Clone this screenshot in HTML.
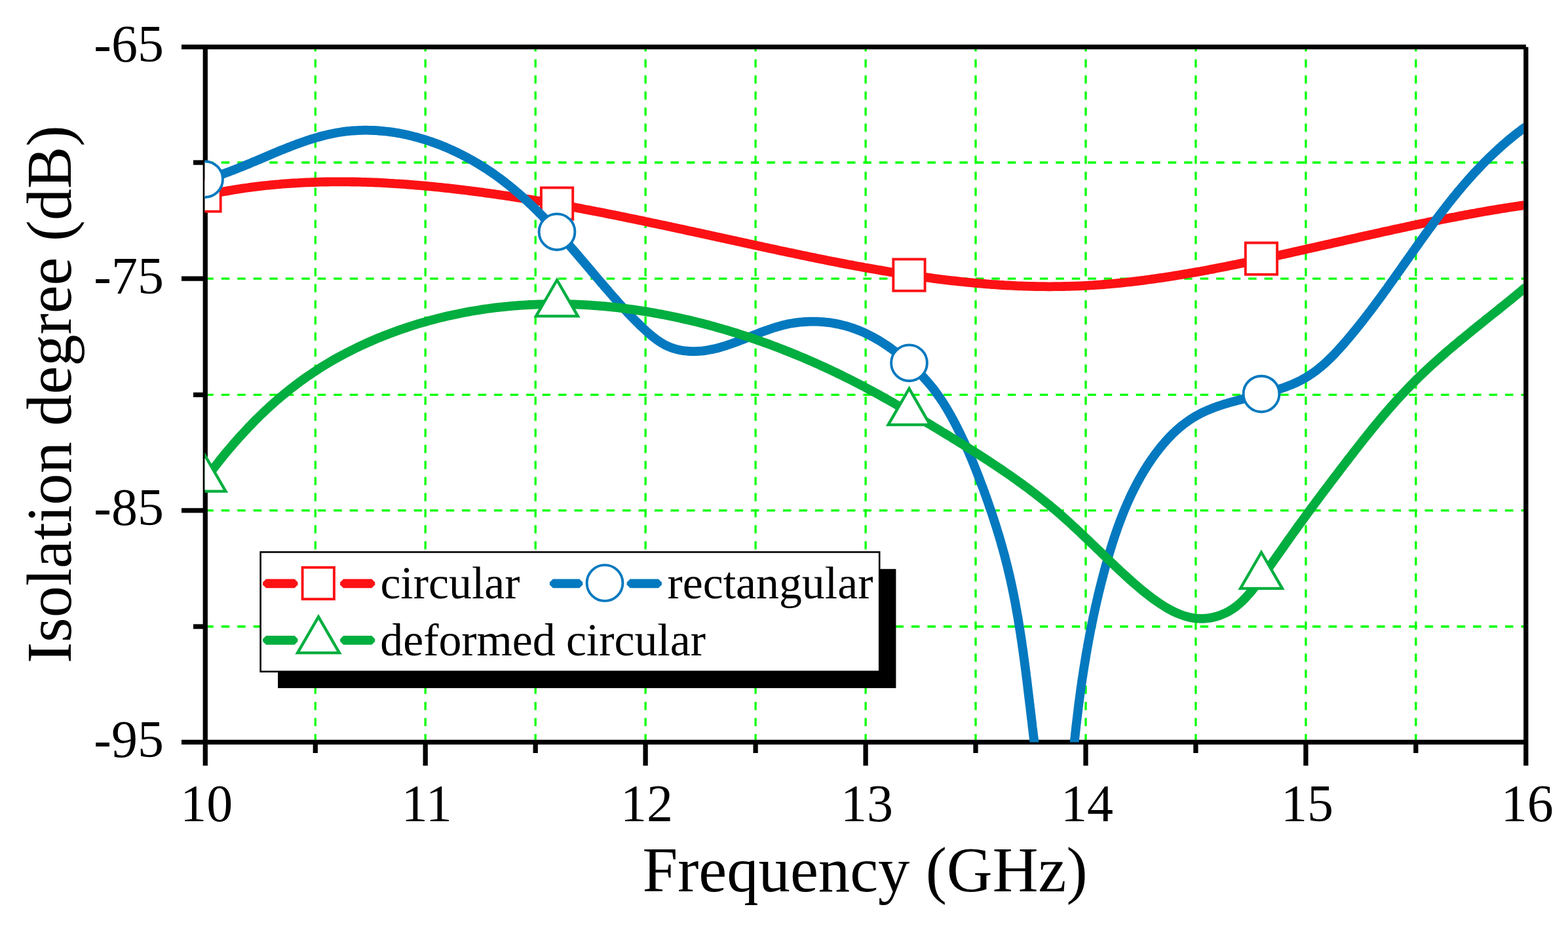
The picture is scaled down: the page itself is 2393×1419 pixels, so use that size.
<!DOCTYPE html>
<html lang="en"><head><meta charset="utf-8"><title>Isolation degree vs Frequency</title>
<style>
html,body{margin:0;padding:0;background:#fff;}
body{width:2393px;height:1419px;overflow:hidden;}
svg{display:block;}
text{font-family:"Liberation Serif",serif;fill:#000;}
</style></head><body>
<svg width="2393" height="1419" viewBox="0 0 2393 1419">
<rect x="0" y="0" width="2393" height="1419" fill="#fff"/>
<defs><clipPath id="plotclip"><rect x="312.5" y="71.7" width="2012.7" height="1060.7"/></clipPath></defs>

<g stroke="#00ff00" stroke-width="3.3" fill="none">
<line x1="481.3" y1="1132.4" x2="481.3" y2="71.7" stroke-dasharray="12.5 12.01"/>
<line x1="649.2" y1="1132.4" x2="649.2" y2="71.7" stroke-dasharray="12.5 12.01"/>
<line x1="817.2" y1="1132.4" x2="817.2" y2="71.7" stroke-dasharray="12.5 12.01"/>
<line x1="985.1" y1="1132.4" x2="985.1" y2="71.7" stroke-dasharray="12.5 12.01"/>
<line x1="1153.1" y1="1132.4" x2="1153.1" y2="71.7" stroke-dasharray="12.5 12.01"/>
<line x1="1321.1" y1="1132.4" x2="1321.1" y2="71.7" stroke-dasharray="12.5 12.01"/>
<line x1="1489.0" y1="1132.4" x2="1489.0" y2="71.7" stroke-dasharray="12.5 12.01"/>
<line x1="1657.0" y1="1132.4" x2="1657.0" y2="71.7" stroke-dasharray="12.5 12.01"/>
<line x1="1824.9" y1="1132.4" x2="1824.9" y2="71.7" stroke-dasharray="12.5 12.01"/>
<line x1="1992.9" y1="1132.4" x2="1992.9" y2="71.7" stroke-dasharray="12.5 12.01"/>
<line x1="2160.8" y1="1132.4" x2="2160.8" y2="71.7" stroke-dasharray="12.5 12.01"/>
<line x1="313.3" y1="248.0" x2="2328.8" y2="248.0" stroke-dasharray="12.5 11.99"/>
<line x1="313.3" y1="425.1" x2="2328.8" y2="425.1" stroke-dasharray="12.5 11.99"/>
<line x1="313.3" y1="602.4" x2="2328.8" y2="602.4" stroke-dasharray="12.5 11.99"/>
<line x1="313.3" y1="778.8" x2="2328.8" y2="778.8" stroke-dasharray="12.5 11.99"/>
<line x1="313.3" y1="956.0" x2="2328.8" y2="956.0" stroke-dasharray="12.5 11.99"/>
</g>
<g stroke="#000" stroke-width="7.3" fill="none" stroke-linecap="butt">
<line x1="277" y1="71.7" x2="2328.8" y2="71.7"/>
<line x1="277" y1="1132.4" x2="2328.8" y2="1132.4"/>
<line x1="313.3" y1="71.7" x2="313.3" y2="1168.3"/>
<line x1="2328.8" y1="71.7" x2="2328.8" y2="1168.3"/>
<line x1="481.3" y1="1132.4" x2="481.3" y2="1149"/>
<line x1="649.2" y1="1132.4" x2="649.2" y2="1168.3"/>
<line x1="817.2" y1="1132.4" x2="817.2" y2="1149"/>
<line x1="985.1" y1="1132.4" x2="985.1" y2="1168.3"/>
<line x1="1153.1" y1="1132.4" x2="1153.1" y2="1149"/>
<line x1="1321.1" y1="1132.4" x2="1321.1" y2="1168.3"/>
<line x1="1489.0" y1="1132.4" x2="1489.0" y2="1149"/>
<line x1="1657.0" y1="1132.4" x2="1657.0" y2="1168.3"/>
<line x1="1824.9" y1="1132.4" x2="1824.9" y2="1149"/>
<line x1="1992.9" y1="1132.4" x2="1992.9" y2="1168.3"/>
<line x1="2160.8" y1="1132.4" x2="2160.8" y2="1149"/>
<line x1="295" y1="248.0" x2="313.3" y2="248.0"/>
<line x1="277" y1="425.1" x2="313.3" y2="425.1"/>
<line x1="295" y1="602.4" x2="313.3" y2="602.4"/>
<line x1="277" y1="778.8" x2="313.3" y2="778.8"/>
<line x1="295" y1="956.0" x2="313.3" y2="956.0"/>
</g>
<g clip-path="url(#plotclip)">
<path d="M313.2,297.9 L317.2,297.0 L321.2,296.2 L325.2,295.4 L329.2,294.6 L333.2,293.8 L337.3,293.0 L341.3,292.3 L345.3,291.6 L349.4,290.9 L353.4,290.2 L357.4,289.5 L361.5,288.9 L365.5,288.2 L369.6,287.6 L373.6,287.0 L377.7,286.5 L381.7,285.9 L385.8,285.4 L389.8,284.9 L393.9,284.4 L397.9,283.9 L402.0,283.4 L406.1,283.0 L410.1,282.6 L414.2,282.2 L418.3,281.8 L422.3,281.4 L426.4,281.1 L430.5,280.7 L434.6,280.4 L438.6,280.1 L442.7,279.8 L446.8,279.5 L450.9,279.3 L455.0,279.1 L459.0,278.8 L463.1,278.6 L467.2,278.4 L471.3,278.3 L475.4,278.1 L479.5,278.0 L483.6,277.8 L487.7,277.7 L491.7,277.6 L495.8,277.5 L499.9,277.5 L504.0,277.4 L508.1,277.4 L512.2,277.3 L516.3,277.3 L520.4,277.3 L524.5,277.3 L528.6,277.4 L532.7,277.4 L536.8,277.5 L540.9,277.5 L545.0,277.6 L549.1,277.7 L553.2,277.8 L557.3,277.9 L561.4,278.1 L565.5,278.2 L569.6,278.4 L573.7,278.5 L577.8,278.7 L581.9,278.9 L586.0,279.1 L590.1,279.3 L594.2,279.6 L598.3,279.8 L602.4,280.1 L606.5,280.3 L610.6,280.6 L614.7,280.9 L618.8,281.2 L622.9,281.5 L626.9,281.8 L631.0,282.1 L635.1,282.5 L639.2,282.8 L643.3,283.2 L647.4,283.5 L651.5,283.9 L655.6,284.3 L659.6,284.7 L663.7,285.1 L667.8,285.5 L671.9,285.9 L676.0,286.3 L680.1,286.8 L684.1,287.2 L688.2,287.7 L692.3,288.1 L696.3,288.6 L700.4,289.1 L704.5,289.6 L708.5,290.0 L712.6,290.5 L716.7,291.1 L720.7,291.6 L724.8,292.1 L728.9,292.6 L732.9,293.2 L737.0,293.7 L741.0,294.3 L745.1,294.8 L749.1,295.4 L753.2,295.9 L757.2,296.5 L761.3,297.1 L765.3,297.7 L769.3,298.3 L773.4,298.9 L777.4,299.5 L781.5,300.1 L785.5,300.8 L789.5,301.4 L793.6,302.0 L797.6,302.7 L801.6,303.3 L805.7,304.0 L809.7,304.6 L813.7,305.3 L817.8,306.0 L821.8,306.6 L825.8,307.3 L829.8,308.0 L833.9,308.7 L837.9,309.4 L841.9,310.1 L845.9,310.8 L849.9,311.5 L854.0,312.2 L858.0,313.0 L862.0,313.7 L866.0,314.4 L870.0,315.2 L874.0,315.9 L878.1,316.6 L882.1,317.4 L886.1,318.1 L890.1,318.9 L894.1,319.7 L898.1,320.4 L902.1,321.2 L906.1,322.0 L910.1,322.8 L914.1,323.5 L918.1,324.3 L922.2,325.1 L926.2,325.9 L930.2,326.7 L934.2,327.5 L938.2,328.3 L942.2,329.1 L946.2,329.9 L950.2,330.7 L954.2,331.5 L958.2,332.4 L962.2,333.2 L966.2,334.0 L970.2,334.8 L974.2,335.7 L978.2,336.5 L982.2,337.3 L986.2,338.2 L990.2,339.0 L994.2,339.9 L998.2,340.7 L1002.2,341.6 L1006.2,342.4 L1010.2,343.3 L1014.2,344.1 L1018.2,345.0 L1022.2,345.8 L1026.2,346.7 L1030.2,347.5 L1034.2,348.4 L1038.2,349.3 L1042.2,350.1 L1046.2,351.0 L1050.2,351.9 L1054.2,352.7 L1058.2,353.6 L1062.2,354.5 L1066.2,355.3 L1070.2,356.2 L1074.2,357.1 L1078.2,357.9 L1082.2,358.8 L1086.2,359.7 L1090.2,360.6 L1094.2,361.4 L1098.2,362.3 L1102.2,363.2 L1106.2,364.1 L1110.2,364.9 L1114.2,365.8 L1118.3,366.7 L1122.3,367.6 L1126.3,368.5 L1130.3,369.3 L1134.3,370.2 L1138.3,371.1 L1142.3,372.0 L1146.3,372.8 L1150.3,373.7 L1154.3,374.6 L1158.4,375.4 L1162.4,376.3 L1166.4,377.2 L1170.4,378.0 L1174.4,378.9 L1178.4,379.8 L1182.4,380.6 L1186.5,381.5 L1190.5,382.4 L1194.5,383.2 L1198.5,384.1 L1202.5,384.9 L1206.6,385.8 L1210.6,386.6 L1214.6,387.5 L1218.6,388.3 L1222.7,389.2 L1226.7,390.0 L1230.7,390.8 L1234.7,391.7 L1238.8,392.5 L1242.8,393.3 L1246.8,394.2 L1250.9,395.0 L1254.9,395.8 L1258.9,396.6 L1262.9,397.4 L1267.0,398.2 L1271.0,399.0 L1275.0,399.8 L1279.1,400.6 L1283.1,401.4 L1287.1,402.1 L1291.2,402.9 L1295.2,403.7 L1299.3,404.4 L1303.3,405.2 L1307.3,406.0 L1311.4,406.7 L1315.4,407.4 L1319.4,408.2 L1323.5,408.9 L1327.5,409.6 L1331.6,410.3 L1335.6,411.0 L1339.7,411.8 L1343.7,412.4 L1347.7,413.1 L1351.8,413.8 L1355.8,414.5 L1359.9,415.2 L1363.9,415.8 L1368.0,416.5 L1372.0,417.1 L1376.1,417.8 L1380.1,418.4 L1384.2,419.0 L1388.2,419.6 L1392.3,420.2 L1396.3,420.8 L1400.4,421.4 L1404.4,422.0 L1408.5,422.6 L1412.5,423.1 L1416.6,423.7 L1420.6,424.2 L1424.7,424.8 L1428.7,425.3 L1432.8,425.8 L1436.8,426.3 L1440.9,426.8 L1444.9,427.3 L1449.0,427.8 L1453.1,428.3 L1457.1,428.7 L1461.2,429.2 L1465.2,429.6 L1469.3,430.0 L1473.3,430.4 L1477.4,430.8 L1481.5,431.2 L1485.5,431.6 L1489.6,432.0 L1493.6,432.3 L1497.7,432.7 L1501.8,433.0 L1505.8,433.3 L1509.9,433.7 L1513.9,434.0 L1518.0,434.2 L1522.1,434.5 L1526.1,434.8 L1530.2,435.0 L1534.3,435.3 L1538.3,435.5 L1542.4,435.7 L1546.5,435.9 L1550.5,436.1 L1554.6,436.3 L1558.7,436.4 L1562.7,436.6 L1566.8,436.7 L1570.9,436.8 L1574.9,436.9 L1579.0,437.0 L1583.1,437.1 L1587.1,437.2 L1591.2,437.2 L1595.3,437.2 L1599.3,437.3 L1603.4,437.3 L1607.5,437.2 L1611.5,437.2 L1615.6,437.2 L1619.7,437.1 L1623.7,437.0 L1627.8,436.9 L1631.9,436.8 L1636.0,436.7 L1640.0,436.6 L1644.1,436.4 L1648.2,436.3 L1652.2,436.1 L1656.3,435.9 L1660.4,435.7 L1664.5,435.4 L1668.5,435.2 L1672.6,434.9 L1676.7,434.6 L1680.8,434.3 L1684.8,434.0 L1688.9,433.7 L1693.0,433.3 L1697.0,433.0 L1701.1,432.6 L1705.2,432.2 L1709.3,431.8 L1713.3,431.4 L1717.4,431.0 L1721.5,430.5 L1725.5,430.1 L1729.6,429.6 L1733.7,429.1 L1737.8,428.6 L1741.8,428.1 L1745.9,427.6 L1750.0,427.0 L1754.0,426.5 L1758.1,425.9 L1762.2,425.4 L1766.2,424.8 L1770.3,424.2 L1774.4,423.6 L1778.4,423.0 L1782.5,422.4 L1786.6,421.7 L1790.6,421.1 L1794.7,420.4 L1798.8,419.8 L1802.8,419.1 L1806.9,418.4 L1810.9,417.7 L1815.0,417.0 L1819.0,416.3 L1823.1,415.6 L1827.2,414.9 L1831.2,414.2 L1835.3,413.4 L1839.3,412.7 L1843.4,411.9 L1847.4,411.1 L1851.5,410.4 L1855.5,409.6 L1859.6,408.8 L1863.6,408.0 L1867.6,407.2 L1871.7,406.4 L1875.7,405.6 L1879.8,404.8 L1883.8,404.0 L1887.8,403.2 L1891.9,402.3 L1895.9,401.5 L1899.9,400.7 L1904.0,399.8 L1908.0,399.0 L1912.0,398.1 L1916.1,397.3 L1920.1,396.4 L1924.1,395.6 L1928.1,394.7 L1932.1,393.8 L1936.2,393.0 L1940.2,392.1 L1944.2,391.2 L1948.2,390.3 L1952.2,389.4 L1956.2,388.6 L1960.2,387.7 L1964.2,386.8 L1968.2,385.9 L1972.2,385.0 L1976.2,384.1 L1980.2,383.2 L1984.2,382.3 L1988.2,381.4 L1992.2,380.5 L1996.2,379.6 L2000.2,378.7 L2004.2,377.8 L2008.2,376.9 L2012.2,376.0 L2016.2,375.1 L2020.2,374.2 L2024.2,373.3 L2028.2,372.4 L2032.2,371.5 L2036.2,370.6 L2040.2,369.7 L2044.1,368.8 L2048.1,367.9 L2052.1,367.0 L2056.1,366.1 L2060.1,365.2 L2064.1,364.3 L2068.1,363.4 L2072.0,362.5 L2076.0,361.6 L2080.0,360.7 L2084.0,359.8 L2088.0,358.9 L2092.0,358.0 L2096.0,357.2 L2099.9,356.3 L2103.9,355.4 L2107.9,354.5 L2111.9,353.6 L2115.9,352.7 L2119.9,351.9 L2123.9,351.0 L2127.9,350.1 L2131.8,349.3 L2135.8,348.4 L2139.8,347.5 L2143.8,346.7 L2147.8,345.8 L2151.8,345.0 L2155.8,344.1 L2159.8,343.3 L2163.8,342.4 L2167.8,341.6 L2171.8,340.8 L2175.8,340.0 L2179.7,339.1 L2183.7,338.3 L2187.7,337.5 L2191.7,336.7 L2195.7,335.9 L2199.7,335.1 L2203.8,334.3 L2207.8,333.5 L2211.8,332.7 L2215.8,331.9 L2219.8,331.2 L2223.8,330.4 L2227.8,329.6 L2231.8,328.9 L2235.8,328.1 L2239.9,327.4 L2243.9,326.6 L2247.9,325.9 L2251.9,325.2 L2255.9,324.4 L2260.0,323.7 L2264.0,323.0 L2268.0,322.3 L2272.1,321.6 L2276.1,320.9 L2280.1,320.3 L2284.2,319.6 L2288.2,318.9 L2292.2,318.3 L2296.3,317.6 L2300.3,317.0 L2304.4,316.3 L2308.4,315.7 L2312.5,315.1 L2316.5,314.5 L2320.6,313.9 L2324.7,313.3 L2328.7,312.7" fill="none" stroke="#fc1114" stroke-width="13.8"/>
<rect x="288.4" y="274.4" width="48.3" height="48.3" fill="#fff" stroke="#fc1114" stroke-width="3.9"/>
<rect x="825.9" y="286.4" width="48.3" height="48.3" fill="#fff" stroke="#fc1114" stroke-width="3.9"/>
<rect x="1363.3" y="395.5" width="48.3" height="48.3" fill="#fff" stroke="#fc1114" stroke-width="3.9"/>
<rect x="1900.8" y="370.5" width="48.3" height="48.3" fill="#fff" stroke="#fc1114" stroke-width="3.9"/>
<path d="M313.9,273.5 L317.3,272.5 L320.8,271.6 L324.2,270.5 L327.7,269.5 L331.1,268.4 L334.6,267.2 L338.1,266.1 L341.5,264.9 L345.0,263.6 L348.4,262.4 L351.9,261.1 L355.4,259.8 L358.9,258.4 L362.3,257.1 L365.8,255.7 L369.3,254.3 L372.8,252.8 L376.3,251.4 L379.8,250.0 L383.3,248.5 L386.8,247.0 L390.3,245.6 L393.8,244.1 L397.3,242.6 L400.8,241.1 L404.3,239.6 L407.9,238.1 L411.4,236.6 L414.9,235.1 L418.4,233.6 L422.0,232.2 L425.5,230.7 L429.1,229.2 L432.6,227.8 L436.2,226.4 L439.7,225.0 L443.3,223.6 L446.8,222.2 L450.4,220.9 L454.0,219.5 L457.6,218.2 L461.2,217.0 L464.7,215.7 L468.3,214.5 L471.9,213.3 L475.5,212.2 L479.1,211.1 L482.8,210.0 L486.4,209.0 L490.0,208.0 L493.6,207.0 L497.3,206.1 L500.9,205.2 L504.5,204.4 L508.2,203.7 L511.8,203.0 L515.5,202.3 L519.2,201.7 L522.8,201.2 L526.5,200.7 L530.2,200.2 L533.9,199.9 L537.6,199.5 L541.2,199.3 L544.9,199.1 L548.6,198.9 L552.3,198.8 L556.0,198.7 L559.7,198.7 L563.4,198.8 L567.1,198.9 L570.8,199.0 L574.6,199.2 L578.3,199.5 L582.0,199.8 L585.6,200.1 L589.3,200.5 L593.0,200.9 L596.7,201.4 L600.4,201.9 L604.1,202.5 L607.8,203.1 L611.4,203.8 L615.1,204.5 L618.8,205.3 L622.4,206.1 L626.1,206.9 L629.7,207.8 L633.3,208.8 L637.0,209.7 L640.6,210.8 L644.2,211.8 L647.8,212.9 L651.4,214.0 L655.0,215.2 L658.5,216.4 L662.1,217.7 L665.6,219.0 L669.2,220.3 L672.7,221.7 L676.2,223.1 L679.7,224.5 L683.2,226.0 L686.6,227.5 L690.1,229.1 L693.5,230.7 L697.0,232.3 L700.4,234.0 L703.8,235.6 L707.1,237.4 L710.5,239.1 L713.8,240.9 L717.1,242.7 L720.5,244.6 L723.7,246.4 L727.0,248.4 L730.2,250.3 L733.5,252.3 L736.7,254.3 L739.9,256.3 L743.0,258.3 L746.2,260.4 L749.3,262.5 L752.4,264.7 L755.5,266.8 L758.5,269.0 L761.5,271.2 L764.5,273.4 L767.5,275.7 L770.5,278.0 L773.4,280.3 L776.4,282.6 L779.3,285.0 L782.2,287.4 L785.0,289.7 L787.9,292.2 L790.7,294.6 L793.5,297.1 L796.3,299.5 L799.1,302.0 L801.9,304.5 L804.6,307.1 L807.3,309.6 L810.1,312.2 L812.8,314.8 L815.4,317.4 L818.1,320.0 L820.8,322.6 L823.4,325.3 L826.1,327.9 L828.7,330.6 L831.3,333.3 L833.9,336.0 L836.5,338.7 L839.1,341.4 L841.6,344.2 L844.2,346.9 L846.7,349.7 L849.3,352.4 L851.8,355.2 L854.3,358.0 L856.8,360.8 L859.3,363.6 L861.8,366.4 L864.3,369.2 L866.8,372.1 L869.3,374.9 L871.8,377.7 L874.2,380.6 L876.7,383.4 L879.2,386.3 L881.6,389.1 L884.1,392.0 L886.5,394.9 L889.0,397.7 L891.4,400.6 L893.9,403.5 L896.3,406.3 L898.7,409.2 L901.2,412.1 L903.6,415.0 L906.0,417.8 L908.5,420.7 L910.9,423.6 L913.4,426.4 L915.8,429.3 L918.2,432.2 L920.7,435.0 L923.1,437.9 L925.6,440.7 L928.1,443.6 L930.5,446.4 L933.0,449.2 L935.4,452.1 L937.9,454.9 L940.4,457.7 L942.9,460.5 L945.4,463.3 L947.9,466.1 L950.4,468.9 L952.9,471.7 L955.5,474.4 L958.0,477.2 L960.6,479.9 L963.2,482.6 L965.8,485.3 L968.4,488.0 L971.1,490.7 L973.8,493.3 L976.5,496.0 L979.2,498.6 L982.0,501.2 L984.8,503.8 L987.6,506.3 L990.4,508.8 L993.3,511.3 L996.3,513.8 L999.3,516.1 L1002.3,518.4 L1005.4,520.5 L1008.6,522.6 L1011.8,524.5 L1015.0,526.3 L1018.4,527.9 L1021.8,529.4 L1025.2,530.7 L1028.7,531.9 L1032.3,532.9 L1035.9,533.8 L1039.5,534.5 L1043.2,535.1 L1046.9,535.5 L1050.6,535.8 L1054.3,536.0 L1058.0,536.1 L1061.7,536.1 L1065.4,535.9 L1069.1,535.7 L1072.8,535.3 L1076.5,534.8 L1080.1,534.3 L1083.7,533.6 L1087.4,532.9 L1091.0,532.1 L1094.6,531.2 L1098.1,530.3 L1101.7,529.2 L1105.3,528.2 L1108.9,527.0 L1112.4,525.8 L1116.0,524.6 L1119.5,523.3 L1123.1,522.0 L1126.6,520.7 L1130.1,519.4 L1133.7,518.0 L1137.2,516.6 L1140.7,515.2 L1144.3,513.8 L1147.8,512.4 L1151.4,511.0 L1154.9,509.6 L1158.5,508.2 L1162.0,506.8 L1165.6,505.5 L1169.2,504.2 L1172.8,502.9 L1176.4,501.7 L1180.0,500.5 L1183.6,499.4 L1187.2,498.3 L1190.8,497.3 L1194.5,496.3 L1198.2,495.4 L1201.9,494.6 L1205.6,493.8 L1209.3,493.2 L1213.0,492.6 L1216.8,492.1 L1220.5,491.6 L1224.3,491.3 L1228.0,491.0 L1231.8,490.8 L1235.6,490.6 L1239.3,490.6 L1243.1,490.6 L1246.9,490.7 L1250.7,490.8 L1254.4,491.1 L1258.2,491.4 L1261.9,491.8 L1265.7,492.2 L1269.4,492.8 L1273.1,493.4 L1276.8,494.1 L1280.5,494.8 L1284.1,495.7 L1287.8,496.6 L1291.4,497.5 L1295.0,498.6 L1298.6,499.7 L1302.1,500.9 L1305.6,502.1 L1309.1,503.5 L1312.6,504.9 L1316.0,506.3 L1319.4,507.8 L1322.8,509.4 L1326.2,511.1 L1329.5,512.8 L1332.8,514.5 L1336.1,516.4 L1339.3,518.2 L1342.5,520.2 L1345.7,522.1 L1348.9,524.2 L1352.0,526.2 L1355.1,528.3 L1358.2,530.5 L1361.3,532.7 L1364.3,535.0 L1367.3,537.2 L1370.3,539.6 L1373.2,541.9 L1376.1,544.3 L1379.0,546.7 L1381.9,549.2 L1384.7,551.7 L1387.6,554.2 L1390.3,556.7 L1393.1,559.3 L1395.8,561.9 L1398.5,564.5 L1401.2,567.2 L1403.8,569.8 L1406.4,572.5 L1409.0,575.3 L1411.5,578.0 L1414.0,580.8 L1416.5,583.7 L1418.9,586.5 L1421.3,589.4 L1423.7,592.3 L1426.0,595.3 L1428.2,598.3 L1430.4,601.3 L1432.6,604.4 L1434.7,607.4 L1436.8,610.6 L1438.9,613.7 L1440.9,616.9 L1442.9,620.1 L1444.8,623.3 L1446.7,626.5 L1448.6,629.8 L1450.4,633.1 L1452.3,636.3 L1454.1,639.6 L1455.8,642.9 L1457.6,646.3 L1459.3,649.6 L1461.0,652.9 L1462.7,656.3 L1464.4,659.7 L1466.0,663.0 L1467.6,666.4 L1469.2,669.8 L1470.8,673.2 L1472.4,676.6 L1473.9,680.0 L1475.4,683.4 L1477.0,686.9 L1478.5,690.3 L1479.9,693.8 L1481.4,697.2 L1482.8,700.7 L1484.3,704.1 L1485.7,707.6 L1487.1,711.1 L1488.5,714.6 L1489.9,718.1 L1491.2,721.6 L1492.6,725.1 L1494.0,728.6 L1495.3,732.1 L1496.6,735.6 L1497.9,739.1 L1499.3,742.6 L1500.6,746.1 L1501.9,749.7 L1503.1,753.2 L1504.4,756.7 L1505.7,760.3 L1506.9,763.8 L1508.2,767.4 L1509.4,770.9 L1510.6,774.5 L1511.9,778.0 L1513.1,781.6 L1514.3,785.1 L1515.4,788.7 L1516.6,792.3 L1517.8,795.8 L1518.9,799.4 L1520.1,803.0 L1521.2,806.6 L1522.3,810.2 L1523.4,813.8 L1524.5,817.3 L1525.6,820.9 L1526.6,824.5 L1527.7,828.2 L1528.7,831.8 L1529.7,835.4 L1530.7,839.0 L1531.7,842.6 L1532.7,846.2 L1533.7,849.9 L1534.6,853.5 L1535.5,857.1 L1536.5,860.8 L1537.4,864.4 L1538.3,868.0 L1539.1,871.7 L1540.0,875.3 L1540.8,879.0 L1541.7,882.6 L1542.5,886.3 L1543.3,890.0 L1544.1,893.6 L1544.9,897.3 L1545.6,901.0 L1546.4,904.6 L1547.1,908.3 L1547.9,912.0 L1548.6,915.7 L1549.3,919.4 L1550.0,923.1 L1550.6,926.8 L1551.3,930.4 L1552.0,934.1 L1552.6,937.8 L1553.3,941.5 L1553.9,945.2 L1554.5,948.9 L1555.1,952.6 L1555.7,956.4 L1556.3,960.1 L1556.9,963.8 L1557.5,967.5 L1558.0,971.2 L1558.6,974.9 L1559.2,978.6 L1559.7,982.4 L1560.2,986.1 L1560.8,989.8 L1561.3,993.5 L1561.8,997.2 L1562.3,1001.0 L1562.8,1004.7 L1563.3,1008.4 L1563.8,1012.1 L1564.3,1015.9 L1564.8,1019.6 L1565.3,1023.3 L1565.8,1027.1 L1566.2,1030.8 L1566.7,1034.5 L1567.2,1038.2 L1567.6,1042.0 L1568.1,1045.7 L1568.5,1049.4 L1569.0,1053.2 L1569.4,1056.9 L1569.9,1060.6 L1570.3,1064.4 L1570.8,1068.1 L1571.2,1071.8 L1571.7,1075.5 L1572.1,1079.3 L1572.6,1083.0 L1573.0,1086.7 L1573.4,1090.5 L1573.9,1094.2 L1574.3,1097.9 L1574.8,1101.6 L1575.2,1105.4 L1575.6,1109.1 L1576.1,1112.8 L1576.5,1116.5 L1577.0,1120.2 L1577.4,1124.0 L1577.9,1127.7 L1578.4,1131.4 L1578.8,1135.1 L1579.3,1138.8 L1579.7,1142.5 L1580.2,1146.2 L1580.7,1150.0" fill="none" stroke="#0479bf" stroke-width="13.8"/>
<path d="M1637.9,1150.1 L1638.2,1147.6 L1638.4,1145.0 L1638.7,1142.5 L1638.9,1140.0 L1639.2,1137.5 L1639.4,1135.0 L1639.7,1132.4 L1640.0,1129.9 L1640.2,1127.4 L1640.5,1124.9 L1640.8,1122.4 L1641.0,1119.9 L1641.3,1117.3 L1641.6,1114.8 L1641.9,1112.3 L1642.1,1109.8 L1642.4,1107.3 L1642.7,1104.8 L1643.0,1102.3 L1643.3,1099.8 L1643.6,1097.3 L1643.9,1094.8 L1644.2,1092.3 L1644.5,1089.8 L1644.8,1087.3 L1645.1,1084.8 L1645.4,1082.3 L1645.7,1079.8 L1646.0,1077.3 L1646.3,1074.8 L1646.6,1072.3 L1647.0,1069.8 L1647.3,1067.3 L1647.6,1064.8 L1648.0,1062.3 L1648.3,1059.8 L1648.6,1057.4 L1649.0,1054.9 L1649.3,1052.4 L1649.7,1049.9 L1650.0,1047.4 L1650.4,1044.9 L1650.7,1042.4 L1651.1,1040.0 L1651.4,1037.5 L1651.8,1035.0 L1652.2,1032.5 L1652.6,1030.1 L1652.9,1027.6 L1653.3,1025.1 L1653.7,1022.6 L1654.1,1020.2 L1654.5,1017.7 L1654.9,1015.2 L1655.3,1012.7 L1655.7,1010.3 L1656.1,1007.8 L1656.5,1005.3 L1656.9,1002.9 L1657.3,1000.4 L1657.7,997.9 L1658.2,995.5 L1658.6,993.0 L1659.0,990.5 L1659.5,988.1 L1659.9,985.6 L1660.3,983.1 L1660.8,980.7 L1661.2,978.2 L1661.7,975.8 L1662.2,973.3 L1662.6,970.8 L1663.1,968.4 L1663.6,965.9 L1664.0,963.5 L1664.5,961.0 L1665.0,958.6 L1665.5,956.1 L1666.0,953.7 L1666.5,951.2 L1667.0,948.8 L1667.5,946.3 L1668.0,943.9 L1668.5,941.4 L1669.0,939.0 L1669.6,936.5 L1670.1,934.1 L1670.6,931.6 L1671.2,929.2 L1671.7,926.7 L1672.2,924.3 L1672.8,921.8 L1673.4,919.4 L1673.9,916.9 L1674.5,914.5 L1675.1,912.1 L1675.6,909.6 L1676.2,907.2 L1676.8,904.7 L1677.4,902.3 L1678.0,899.9 L1678.6,897.4 L1679.2,895.0 L1679.8,892.5 L1680.4,890.1 L1681.0,887.7 L1681.7,885.2 L1682.3,882.8 L1682.9,880.4 L1683.6,877.9 L1684.2,875.5 L1684.9,873.1 L1685.5,870.6 L1686.2,868.2 L1686.8,865.8 L1687.5,863.3 L1688.2,860.9 L1688.9,858.5 L1689.6,856.0 L1690.3,853.6 L1691.0,851.2 L1691.7,848.8 L1692.4,846.3 L1693.1,843.9 L1693.8,841.5 L1694.6,839.1 L1695.3,836.6 L1696.1,834.2 L1696.8,831.8 L1697.6,829.4 L1698.3,827.0 L1699.1,824.6 L1699.9,822.2 L1700.7,819.8 L1701.5,817.4 L1702.3,815.0 L1703.1,812.6 L1704.0,810.2 L1704.8,807.8 L1705.6,805.4 L1706.5,803.0 L1707.4,800.6 L1708.2,798.3 L1709.1,795.9 L1710.0,793.5 L1710.9,791.2 L1711.8,788.8 L1712.7,786.5 L1713.7,784.1 L1714.6,781.8 L1715.6,779.4 L1716.5,777.1 L1717.5,774.8 L1718.5,772.5 L1719.5,770.1 L1720.5,767.8 L1721.5,765.5 L1722.6,763.2 L1723.6,760.9 L1724.7,758.6 L1725.7,756.4 L1726.8,754.1 L1727.9,751.8 L1729.0,749.6 L1730.1,747.3 L1731.3,745.0 L1732.4,742.8 L1733.6,740.6 L1734.7,738.3 L1735.9,736.1 L1737.1,733.9 L1738.3,731.7 L1739.6,729.5 L1740.8,727.3 L1742.1,725.1 L1743.3,723.0 L1744.6,720.8 L1745.9,718.6 L1747.2,716.5 L1748.5,714.4 L1749.9,712.2 L1751.2,710.1 L1752.6,708.0 L1754.0,705.9 L1755.4,703.8 L1756.8,701.7 L1758.3,699.6 L1759.7,697.6 L1761.2,695.5 L1762.7,693.5 L1764.2,691.4 L1765.7,689.4 L1767.3,687.4 L1768.8,685.4 L1770.4,683.4 L1772.0,681.5 L1773.6,679.5 L1775.2,677.6 L1776.8,675.7 L1778.5,673.8 L1780.2,671.9 L1781.9,670.1 L1783.6,668.2 L1785.3,666.4 L1787.1,664.6 L1788.8,662.8 L1790.6,661.1 L1792.4,659.4 L1794.3,657.6 L1796.1,656.0 L1798.0,654.3 L1799.8,652.7 L1801.7,651.1 L1803.7,649.5 L1805.6,648.0 L1807.6,646.5 L1809.6,645.0 L1811.6,643.5 L1813.6,642.1 L1815.6,640.7 L1817.7,639.3 L1819.8,638.0 L1821.9,636.7 L1824.0,635.4 L1826.1,634.2 L1828.3,633.0 L1830.5,631.9 L1832.7,630.7 L1834.9,629.6 L1837.2,628.6 L1839.4,627.5 L1841.7,626.5 L1844.0,625.5 L1846.3,624.6 L1848.6,623.6 L1850.9,622.7 L1853.3,621.8 L1855.6,621.0 L1858.0,620.1 L1860.4,619.3 L1862.8,618.5 L1865.2,617.7 L1867.6,616.9 L1870.1,616.2 L1872.5,615.5 L1875.0,614.7 L1877.4,614.0 L1879.9,613.3 L1882.3,612.6 L1884.8,612.0 L1887.3,611.3 L1889.8,610.6 L1892.3,610.0 L1894.8,609.3 L1897.3,608.7 L1899.8,608.1 L1902.3,607.4 L1904.8,606.8 L1907.3,606.2 L1909.8,605.5 L1912.3,604.9 L1914.8,604.3 L1917.3,603.6 L1919.8,603.0 L1922.2,602.4 L1924.7,601.7 L1927.2,601.1 L1929.7,600.4 L1932.2,599.7 L1934.6,599.0 L1937.1,598.4 L1939.6,597.7 L1942.0,596.9 L1944.5,596.2 L1946.9,595.5 L1949.3,594.7 L1951.7,593.9 L1954.1,593.1 L1956.5,592.3 L1958.9,591.5 L1961.2,590.7 L1963.6,589.8 L1965.9,588.9 L1968.3,588.0 L1970.6,587.1 L1972.9,586.1 L1975.1,585.1 L1977.4,584.1 L1979.6,583.1 L1981.9,582.0 L1984.1,580.9 L1986.3,579.8 L1988.4,578.6 L1990.6,577.4 L1992.7,576.2 L1994.8,574.9 L1996.9,573.6 L1998.9,572.3 L2001.0,570.9 L2003.0,569.5 L2005.0,568.1 L2007.0,566.7 L2009.0,565.2 L2010.9,563.7 L2012.8,562.1 L2014.8,560.6 L2016.7,559.0 L2018.5,557.4 L2020.4,555.8 L2022.3,554.1 L2024.1,552.4 L2025.9,550.7 L2027.7,549.0 L2029.5,547.3 L2031.3,545.5 L2033.1,543.8 L2034.8,542.0 L2036.6,540.2 L2038.3,538.3 L2040.0,536.5 L2041.7,534.7 L2043.4,532.8 L2045.1,530.9 L2046.8,529.1 L2048.5,527.2 L2050.1,525.3 L2051.8,523.4 L2053.4,521.5 L2055.1,519.6 L2056.7,517.6 L2058.4,515.7 L2060.0,513.8 L2061.6,511.9 L2063.2,509.9 L2064.8,508.0 L2066.4,506.0 L2068.0,504.1 L2069.6,502.1 L2071.2,500.1 L2072.8,498.2 L2074.4,496.2 L2075.9,494.2 L2077.5,492.3 L2079.1,490.3 L2080.6,488.3 L2082.2,486.3 L2083.7,484.3 L2085.3,482.3 L2086.8,480.3 L2088.3,478.3 L2089.9,476.3 L2091.4,474.3 L2092.9,472.3 L2094.4,470.3 L2096.0,468.3 L2097.5,466.2 L2099.0,464.2 L2100.5,462.2 L2102.0,460.2 L2103.5,458.1 L2105.0,456.1 L2106.5,454.1 L2108.0,452.0 L2109.5,450.0 L2110.9,447.9 L2112.4,445.9 L2113.9,443.8 L2115.4,441.8 L2116.9,439.8 L2118.3,437.7 L2119.8,435.6 L2121.3,433.6 L2122.7,431.5 L2124.2,429.5 L2125.7,427.4 L2127.1,425.4 L2128.6,423.3 L2130.1,421.3 L2131.5,419.2 L2133.0,417.1 L2134.4,415.1 L2135.9,413.0 L2137.4,410.9 L2138.8,408.9 L2140.3,406.8 L2141.7,404.8 L2143.2,402.7 L2144.6,400.6 L2146.1,398.6 L2147.5,396.5 L2149.0,394.4 L2150.4,392.4 L2151.9,390.3 L2153.4,388.3 L2154.8,386.2 L2156.3,384.1 L2157.7,382.1 L2159.2,380.0 L2160.6,378.0 L2162.1,375.9 L2163.6,373.9 L2165.0,371.8 L2166.5,369.8 L2167.9,367.7 L2169.4,365.7 L2170.9,363.6 L2172.4,361.6 L2173.8,359.5 L2175.3,357.5 L2176.8,355.5 L2178.3,353.4 L2179.7,351.4 L2181.2,349.3 L2182.7,347.3 L2184.2,345.3 L2185.7,343.3 L2187.2,341.2 L2188.7,339.2 L2190.2,337.2 L2191.7,335.2 L2193.2,333.2 L2194.7,331.2 L2196.2,329.2 L2197.7,327.2 L2199.2,325.2 L2200.8,323.2 L2202.3,321.2 L2203.8,319.2 L2205.4,317.2 L2206.9,315.2 L2208.4,313.3 L2210.0,311.3 L2211.5,309.3 L2213.1,307.4 L2214.7,305.4 L2216.2,303.4 L2217.8,301.5 L2219.4,299.5 L2221.0,297.6 L2222.5,295.7 L2224.1,293.7 L2225.7,291.8 L2227.3,289.9 L2229.0,288.0 L2230.6,286.0 L2232.2,284.1 L2233.8,282.2 L2235.5,280.3 L2237.1,278.4 L2238.7,276.6 L2240.4,274.7 L2242.0,272.8 L2243.7,270.9 L2245.4,269.1 L2247.1,267.2 L2248.7,265.4 L2250.4,263.5 L2252.1,261.7 L2253.8,259.9 L2255.6,258.0 L2257.3,256.2 L2259.0,254.4 L2260.7,252.6 L2262.5,250.8 L2264.2,249.0 L2266.0,247.2 L2267.8,245.4 L2269.6,243.7 L2271.3,241.9 L2273.1,240.1 L2274.9,238.4 L2276.7,236.7 L2278.6,234.9 L2280.4,233.2 L2282.2,231.5 L2284.1,229.8 L2285.9,228.1 L2287.8,226.4 L2289.7,224.7 L2291.5,223.0 L2293.4,221.3 L2295.3,219.7 L2297.3,218.0 L2299.2,216.4 L2301.1,214.7 L2303.0,213.1 L2305.0,211.5 L2307.0,209.9 L2308.9,208.3 L2310.9,206.7 L2312.9,205.1 L2314.9,203.5 L2316.9,202.0 L2319.0,200.4 L2321.0,198.9 L2323.0,197.3 L2325.1,195.8 L2327.2,194.3 L2329.3,192.8" fill="none" stroke="#0479bf" stroke-width="13.8"/>
<circle cx="312.6" cy="273.6" r="27.4" fill="#fff" stroke="#0479bf" stroke-width="3.9"/>
<circle cx="850.0" cy="353.8" r="27.4" fill="#fff" stroke="#0479bf" stroke-width="3.9"/>
<circle cx="1387.5" cy="553.8" r="27.4" fill="#fff" stroke="#0479bf" stroke-width="3.9"/>
<circle cx="1925.0" cy="601.1" r="27.4" fill="#fff" stroke="#0479bf" stroke-width="3.9"/>
<path d="M313.2,731.4 L316.2,727.4 L319.2,723.4 L322.2,719.4 L325.2,715.5 L328.2,711.6 L331.3,707.7 L334.4,703.8 L337.5,699.9 L340.6,696.0 L343.7,692.2 L346.9,688.4 L350.1,684.6 L353.3,680.9 L356.5,677.1 L359.8,673.4 L363.0,669.7 L366.3,666.0 L369.7,662.4 L373.0,658.8 L376.4,655.2 L379.7,651.6 L383.2,648.1 L386.6,644.5 L390.0,641.0 L393.5,637.6 L397.0,634.1 L400.6,630.7 L404.1,627.3 L407.7,624.0 L411.3,620.7 L415.0,617.4 L418.6,614.1 L422.3,610.9 L426.0,607.7 L429.8,604.5 L433.5,601.4 L437.3,598.3 L441.2,595.2 L445.0,592.2 L448.9,589.2 L452.8,586.2 L456.7,583.2 L460.7,580.3 L464.7,577.5 L468.7,574.6 L472.8,571.9 L476.9,569.1 L481.0,566.4 L485.1,563.7 L489.3,561.0 L493.5,558.4 L497.7,555.9 L501.9,553.3 L506.2,550.8 L510.5,548.3 L514.8,545.9 L519.2,543.5 L523.6,541.2 L527.9,538.8 L532.4,536.6 L536.8,534.3 L541.3,532.1 L545.7,529.9 L550.2,527.8 L554.7,525.7 L559.3,523.6 L563.8,521.6 L568.4,519.6 L573.0,517.6 L577.6,515.7 L582.2,513.8 L586.8,512.0 L591.5,510.2 L596.1,508.4 L600.8,506.7 L605.5,505.0 L610.2,503.3 L614.9,501.7 L619.6,500.1 L624.3,498.5 L629.1,497.0 L633.8,495.5 L638.5,494.0 L643.3,492.6 L648.1,491.3 L652.8,489.9 L657.6,488.6 L662.4,487.3 L667.2,486.1 L672.0,484.9 L676.8,483.7 L681.6,482.6 L686.4,481.5 L691.2,480.4 L696.0,479.4 L700.8,478.4 L705.7,477.5 L710.5,476.5 L715.3,475.6 L720.2,474.8 L725.0,474.0 L729.9,473.2 L734.7,472.4 L739.6,471.7 L744.4,471.0 L749.3,470.4 L754.2,469.7 L759.0,469.2 L763.9,468.6 L768.8,468.1 L773.7,467.6 L778.5,467.1 L783.4,466.7 L788.3,466.3 L793.2,465.9 L798.1,465.6 L803.0,465.3 L807.9,465.0 L812.7,464.8 L817.6,464.6 L822.5,464.4 L827.4,464.3 L832.3,464.2 L837.2,464.1 L842.1,464.0 L847.0,464.0 L851.9,464.0 L856.8,464.1 L861.7,464.1 L866.6,464.2 L871.5,464.4 L876.5,464.5 L881.4,464.7 L886.3,464.9 L891.2,465.2 L896.1,465.4 L901.0,465.7 L905.9,466.1 L910.8,466.4 L915.7,466.8 L920.6,467.2 L925.5,467.7 L930.4,468.1 L935.3,468.6 L940.1,469.2 L945.0,469.7 L949.9,470.3 L954.8,470.9 L959.7,471.6 L964.6,472.2 L969.5,472.9 L974.3,473.6 L979.2,474.4 L984.1,475.1 L988.9,475.9 L993.8,476.7 L998.7,477.6 L1003.5,478.5 L1008.4,479.4 L1013.2,480.3 L1018.1,481.2 L1022.9,482.2 L1027.8,483.2 L1032.6,484.2 L1037.5,485.3 L1042.3,486.4 L1047.1,487.5 L1051.9,488.6 L1056.7,489.7 L1061.6,490.9 L1066.4,492.1 L1071.2,493.3 L1076.0,494.6 L1080.7,495.8 L1085.5,497.1 L1090.3,498.4 L1095.1,499.8 L1099.8,501.1 L1104.6,502.5 L1109.4,503.9 L1114.1,505.3 L1118.9,506.8 L1123.6,508.2 L1128.3,509.7 L1133.0,511.3 L1137.8,512.8 L1142.5,514.3 L1147.2,515.9 L1151.9,517.5 L1156.6,519.2 L1161.2,520.8 L1165.9,522.5 L1170.6,524.1 L1175.2,525.8 L1179.9,527.6 L1184.5,529.3 L1189.2,531.1 L1193.8,532.9 L1198.4,534.7 L1203.0,536.5 L1207.6,538.4 L1212.2,540.2 L1216.8,542.1 L1221.3,544.0 L1225.9,545.9 L1230.5,547.9 L1235.0,549.8 L1239.5,551.8 L1244.1,553.8 L1248.6,555.8 L1253.1,557.9 L1257.6,559.9 L1262.1,562.0 L1266.5,564.1 L1271.0,566.2 L1275.5,568.3 L1279.9,570.5 L1284.3,572.6 L1288.7,574.8 L1293.2,577.0 L1297.6,579.2 L1301.9,581.4 L1306.3,583.7 L1310.7,585.9 L1315.0,588.2 L1319.4,590.5 L1323.7,592.8 L1328.0,595.1 L1332.3,597.4 L1336.7,599.8 L1341.0,602.1 L1345.2,604.5 L1349.5,606.9 L1353.8,609.3 L1358.1,611.7 L1362.3,614.1 L1366.6,616.6 L1370.8,619.0 L1375.1,621.5 L1379.3,623.9 L1383.6,626.4 L1387.8,628.9 L1392.0,631.4 L1396.3,633.9 L1400.5,636.4 L1404.7,638.9 L1408.9,641.4 L1413.2,644.0 L1417.4,646.5 L1421.6,649.0 L1425.8,651.6 L1430.0,654.1 L1434.2,656.7 L1438.5,659.3 L1442.7,661.8 L1446.9,664.4 L1451.1,667.0 L1455.3,669.6 L1459.6,672.2 L1463.8,674.8 L1468.0,677.4 L1472.2,680.0 L1476.4,682.6 L1480.6,685.3 L1484.8,687.9 L1489.0,690.6 L1493.1,693.2 L1497.3,695.9 L1501.5,698.6 L1505.6,701.3 L1509.8,704.0 L1513.9,706.8 L1518.1,709.5 L1522.2,712.2 L1526.3,715.0 L1530.4,717.8 L1534.5,720.6 L1538.6,723.4 L1542.6,726.2 L1546.7,729.1 L1550.7,731.9 L1554.7,734.8 L1558.7,737.7 L1562.7,740.6 L1566.7,743.6 L1570.7,746.5 L1574.6,749.5 L1578.5,752.5 L1582.4,755.5 L1586.3,758.5 L1590.2,761.6 L1594.0,764.7 L1597.9,767.8 L1601.7,770.9 L1605.4,774.1 L1609.2,777.2 L1613.0,780.4 L1616.7,783.6 L1620.4,786.9 L1624.0,790.1 L1627.7,793.4 L1631.4,796.7 L1635.0,800.0 L1638.6,803.4 L1642.2,806.7 L1645.8,810.0 L1649.4,813.4 L1652.9,816.8 L1656.5,820.2 L1660.1,823.6 L1663.6,827.0 L1667.1,830.4 L1670.7,833.8 L1674.2,837.2 L1677.8,840.6 L1681.3,844.0 L1684.9,847.4 L1688.4,850.9 L1692.0,854.3 L1695.5,857.7 L1699.1,861.1 L1702.6,864.4 L1706.2,867.8 L1709.8,871.2 L1713.4,874.5 L1717.1,877.9 L1720.7,881.2 L1724.4,884.5 L1728.1,887.8 L1731.8,891.1 L1735.6,894.3 L1739.4,897.6 L1743.3,900.8 L1747.3,904.0 L1751.3,907.2 L1755.3,910.3 L1759.4,913.4 L1763.6,916.4 L1767.9,919.4 L1772.2,922.3 L1776.5,925.0 L1780.9,927.7 L1785.4,930.1 L1789.9,932.5 L1794.4,934.7 L1799.0,936.6 L1803.6,938.4 L1808.2,940.0 L1812.9,941.3 L1817.6,942.4 L1822.4,943.2 L1827.2,943.7 L1832.0,943.9 L1836.8,943.8 L1841.5,943.5 L1846.3,942.9 L1851.0,942.0 L1855.7,940.8 L1860.3,939.4 L1864.9,937.7 L1869.3,935.8 L1873.7,933.7 L1877.9,931.2 L1882.0,928.6 L1886.0,925.7 L1889.8,922.7 L1893.5,919.4 L1897.1,916.0 L1900.6,912.4 L1904.0,908.7 L1907.4,904.9 L1910.6,901.0 L1913.8,897.0 L1916.9,892.9 L1920.0,888.8 L1923.0,884.7 L1926.0,880.6 L1929.0,876.5 L1931.9,872.4 L1934.8,868.3 L1937.7,864.2 L1940.6,860.2 L1943.5,856.1 L1946.3,852.1 L1949.2,848.0 L1952.0,844.0 L1954.9,840.0 L1957.7,836.0 L1960.5,832.0 L1963.3,828.0 L1966.1,824.0 L1969.0,820.0 L1971.8,816.1 L1974.6,812.1 L1977.5,808.1 L1980.3,804.1 L1983.2,800.2 L1986.1,796.2 L1989.0,792.2 L1991.9,788.3 L1994.8,784.3 L1997.7,780.4 L2000.6,776.4 L2003.5,772.4 L2006.4,768.5 L2009.4,764.5 L2012.3,760.6 L2015.3,756.6 L2018.2,752.7 L2021.2,748.7 L2024.2,744.8 L2027.2,740.9 L2030.1,736.9 L2033.1,733.0 L2036.1,729.0 L2039.1,725.1 L2042.1,721.2 L2045.1,717.2 L2048.1,713.3 L2051.1,709.4 L2054.1,705.5 L2057.1,701.5 L2060.1,697.6 L2063.2,693.7 L2066.2,689.8 L2069.2,685.9 L2072.3,682.0 L2075.3,678.1 L2078.4,674.2 L2081.4,670.3 L2084.5,666.5 L2087.6,662.6 L2090.7,658.8 L2093.8,654.9 L2096.9,651.1 L2100.1,647.3 L2103.2,643.5 L2106.4,639.7 L2109.5,636.0 L2112.7,632.2 L2115.9,628.5 L2119.2,624.7 L2122.4,621.0 L2125.7,617.3 L2129.0,613.7 L2132.3,610.0 L2135.6,606.4 L2138.9,602.7 L2142.3,599.2 L2145.6,595.6 L2149.0,592.0 L2152.5,588.5 L2155.9,585.0 L2159.4,581.5 L2162.9,578.0 L2166.4,574.6 L2170.0,571.2 L2173.5,567.8 L2177.1,564.4 L2180.7,561.0 L2184.4,557.7 L2188.0,554.4 L2191.7,551.1 L2195.4,547.8 L2199.1,544.5 L2202.8,541.3 L2206.5,538.0 L2210.3,534.8 L2214.0,531.6 L2217.8,528.4 L2221.6,525.2 L2225.4,522.1 L2229.2,518.9 L2233.0,515.8 L2236.9,512.6 L2240.7,509.5 L2244.5,506.4 L2248.4,503.2 L2252.2,500.1 L2256.1,497.0 L2259.9,493.9 L2263.8,490.8 L2267.6,487.7 L2271.5,484.6 L2275.3,481.5 L2279.2,478.4 L2283.1,475.4 L2286.9,472.3 L2290.7,469.2 L2294.6,466.1 L2298.4,463.0 L2302.3,459.9 L2306.1,456.8 L2309.9,453.7 L2313.7,450.5 L2317.5,447.4 L2321.3,444.3 L2325.0,441.1 L2328.8,438.0" fill="none" stroke="#02ae3f" stroke-width="13.8"/>
<polygon points="312.6,690.2 348.2,751.8 276.9,751.8" fill="#02ae3f"/><polygon points="312.6,698.9 340.7,747.5 284.4,747.5" fill="#fff"/>
<polygon points="850.0,422.9 885.7,484.5 814.3,484.5" fill="#02ae3f"/><polygon points="850.0,431.6 878.1,480.2 821.9,480.2" fill="#fff"/>
<polygon points="1387.5,588.6 1423.2,650.2 1351.8,650.2" fill="#02ae3f"/><polygon points="1387.5,597.3 1415.6,645.9 1359.4,645.9" fill="#fff"/>
<polygon points="1925.0,838.4 1960.7,900.0 1889.3,900.0" fill="#02ae3f"/><polygon points="1925.0,847.1 1953.1,895.7 1896.8,895.7" fill="#fff"/>
</g>
<rect x="424.1" y="868.2" width="943.3" height="181.7" fill="#000"/>
<rect x="397.6" y="842.4" width="944.6" height="182.3" fill="#fff" stroke="#000" stroke-width="2.6"/>
<polygon points="401.1,888.4 406.1,883.4 449.5,883.4 454.5,888.4 454.5,892.2 449.5,897.2 406.1,897.2 401.1,892.2" fill="#fc1114"/>
<polygon points="519.1,888.4 524.1,883.4 567.3,883.4 572.3,888.4 572.3,892.2 567.3,897.2 524.1,897.2 519.1,892.2" fill="#fc1114"/>
<rect x="461.6" y="865.8" width="48.3" height="48.3" fill="#fff" stroke="#fc1114" stroke-width="3.9"/>
<polygon points="838.9,888.4 843.9,883.4 884.3,883.4 889.3,888.4 889.3,892.2 884.3,897.2 843.9,897.2 838.9,892.2" fill="#0479bf"/>
<polygon points="956.7,888.4 961.7,883.4 1004.9,883.4 1009.9,888.4 1009.9,892.2 1004.9,897.2 961.7,897.2 956.7,892.2" fill="#0479bf"/>
<circle cx="923.0" cy="889.5" r="27.4" fill="#fff" stroke="#0479bf" stroke-width="3.9"/>
<polygon points="401.1,974.9 406.1,969.9 449.5,969.9 454.5,974.9 454.5,978.7 449.5,983.7 406.1,983.7 401.1,978.7" fill="#02ae3f"/>
<polygon points="519.1,974.9 524.1,969.9 567.3,969.9 572.3,974.9 572.3,978.7 567.3,983.7 524.1,983.7 519.1,978.7" fill="#02ae3f"/>
<polygon points="486.0,936.7 521.7,998.3 450.3,998.3" fill="#02ae3f"/><polygon points="486.0,945.4 514.1,994.0 457.9,994.0" fill="#fff"/>
<text x="580.4" y="913.4" font-size="69.8">circular</text>
<text x="1018.5" y="913.4" font-size="69.8">rectangular</text>
<text x="580.3" y="999.9" font-size="69.8" word-spacing="-1.3">deformed circular</text>
<text x="315.3" y="1253" font-size="80" text-anchor="middle">10</text>
<text x="651.2" y="1253" font-size="80" text-anchor="middle">11</text>
<text x="987.1" y="1253" font-size="80" text-anchor="middle">12</text>
<text x="1323.1" y="1253" font-size="80" text-anchor="middle">13</text>
<text x="1659.0" y="1253" font-size="80" text-anchor="middle">14</text>
<text x="1994.9" y="1253" font-size="80" text-anchor="middle">15</text>
<text x="2330.8" y="1253" font-size="80" text-anchor="middle">16</text>
<text x="250" y="94.3" font-size="80" text-anchor="end">-65</text>
<text x="250" y="447.9" font-size="80" text-anchor="end">-75</text>
<text x="250" y="801.4" font-size="80" text-anchor="end">-85</text>
<text x="250" y="1155.0" font-size="80" text-anchor="end">-95</text>
<text x="1320" y="1360.4" font-size="96.7" text-anchor="middle">Frequency (GHz)</text>
<text transform="translate(108,601.7) rotate(-90)" font-size="96.6" text-anchor="middle">Isolation degree (dB)</text>
</svg></body></html>
